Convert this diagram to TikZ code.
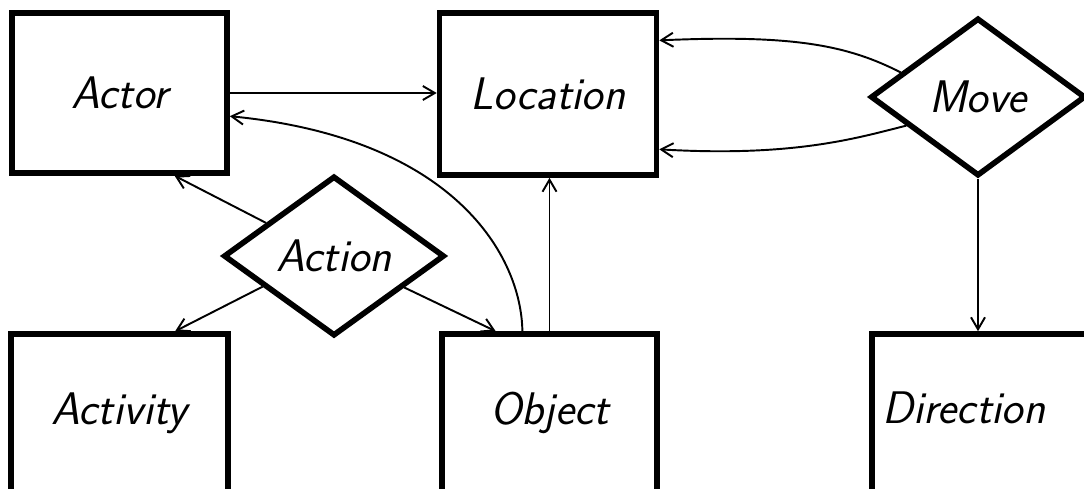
\documentclass[tikz,border=0pt]{standalone}
\usetikzlibrary{shapes.geometric,arrows.meta,calc}
\begin{document}
\begin{tikzpicture}[x=0.02cm,y=-0.02cm,
  entity/.style={draw,rectangle,line width=3.2pt,inner sep=0pt,
    font=\fontsize{26}{30}\selectfont\sffamily\slshape},
  lower/.style={minimum height=3.4cm,text depth=0.42cm},
  relation/.style={draw,diamond,aspect=1.4,line width=3.2pt,inner sep=0pt,
    font=\fontsize{26}{30}\selectfont\sffamily\slshape},
  link/.style={line width=1.1pt,-{Straight Barb[length=2.4mm,width=2.8mm]}}]
\useasboundingbox (0,0) rectangle (1084,488);
\clip (0,0) rectangle (1084,488);

% entities
\node[entity,minimum width=4.3cm,minimum height=3.2cm] (actor) at (119.5,93) {Actor};
\node[entity,minimum width=4.34cm,minimum height=3.24cm] (location) at (548,94) {Location};
\node[entity,lower,minimum width=4.34cm] (activity) at (119.5,419) {Activity};
\node[entity,lower,minimum width=4.3cm] (object) at (549.5,419) {Object};
\node[entity,lower,text depth=0.45cm,text width=4.6cm,align=left,inner xsep=0.2cm] (direction) at (997,419) {Direction};

% relationships
\node[relation,minimum width=4.42cm,minimum height=3.2cm] (action) at (334,256) {Action};
\node[relation,minimum width=4.3cm,minimum height=3.16cm] (move) at (978,97) {Move};

% connectors
\draw[link] (actor.east) -- (actor.east -| location.west);
\draw[link] (object.north) -- (object.north |- location.south);
\draw[link] ($(object.north west)!0.377!(object.north east)$)
  .. controls +(-1,-75) and +(225,22) .. ($(actor.north east)!0.64!(actor.south east)$);
\draw[link] ($(action.west)!0.4!(action.north)$) -- ($(actor.south east)!0.25!(actor.south west)$);
\draw[link] ($(action.west)!0.37!(action.south)$) -- ($(activity.north east)!0.25!(activity.north west)$);
\draw[link] ($(action.east)!0.38!(action.south)$) -- ($(object.north west)!0.256!(object.north east)$);
\draw[link] ($(move.west)!0.30!(move.north)$)
  .. controls +(-53,-27) and +(135,-6) .. ($(location.north east)!0.18!(location.south east)$);
\draw[link] ($(move.west)!0.35!(move.south)$)
  .. controls +(-48,12) and +(135,8) .. ($(location.north east)!0.83!(location.south east)$);
\draw[link] (move.south) -- (move.south |- direction.north);
\end{tikzpicture}
\end{document}
